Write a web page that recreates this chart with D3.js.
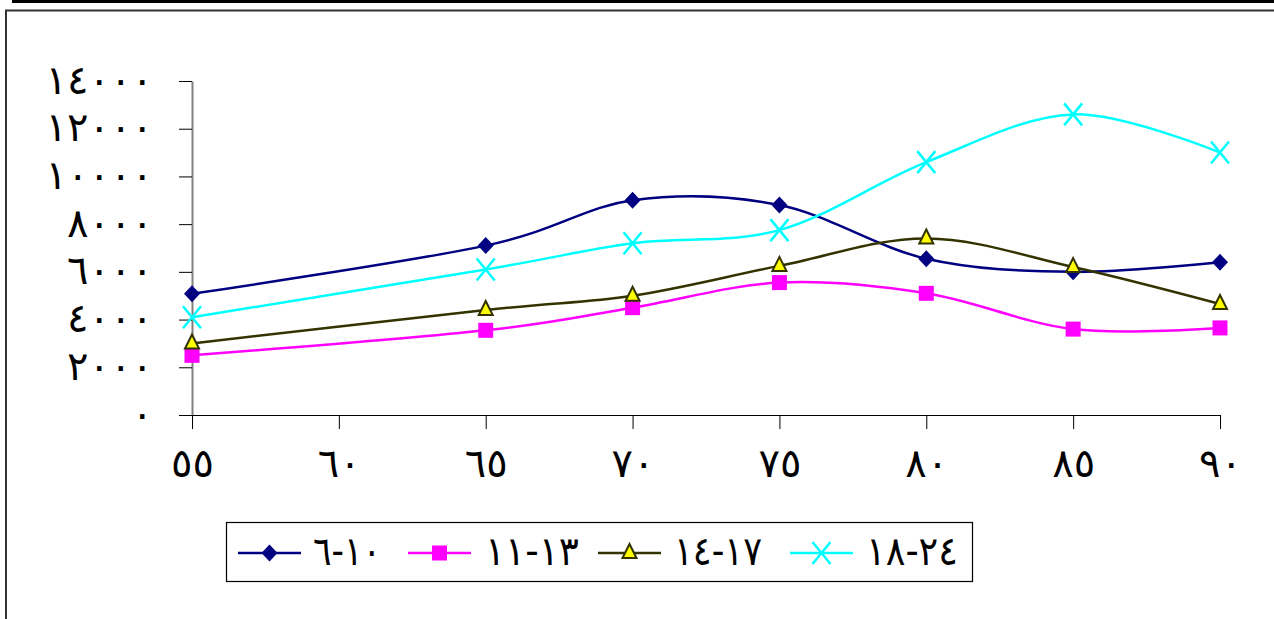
<!DOCTYPE html>
<html><head><meta charset="utf-8">
<script src="https://cdn.jsdelivr.net/npm/d3@7"></script>
<style>
html,body{margin:0;padding:0;background:#fff;}
svg{display:block;}
text{font-family:"DejaVu Sans","Noto Sans",sans-serif;fill:#000;}
</style></head>
<body>
<svg id="chart" width="1274" height="619"></svg>
<script>
const years = [55, 65, 70, 75, 80, 85, 90];
const xTickValues = [55, 60, 65, 70, 75, 80, 85, 90];
const yTickValues = [0, 2000, 4000, 6000, 8000, 10000, 12000, 14000];
const seriesNames = ["6-10", "11-13", "14-17", "18-24"];
const s6_10  = [5080, 7100, 9000, 8800, 6550, 6000, 6400];
const s11_13 = [2500, 3550, 4500, 5550, 5100, 3600, 3650];
const s14_17 = [3000, 4400, 5000, 6250, 7400, 6200, 4650];
const s18_24 = [4100, 6100, 7200, 7750, 10600, 12600, 11000];

const arDigits = "٠١٢٣٤٥٦٧٨٩";
const toAr = s => String(s).replace(/[0-9]/g, d => arDigits[+d]).replace(/-/g, "\u200E-\u200E");

const svg = d3.select("#chart");
// frame
svg.append("rect").attr("x", 12).attr("y", 0).attr("width", 1262).attr("height", 3).attr("fill", "#000");
svg.append("path").attr("d", "M6,619 V10.5 H1274").attr("fill", "none").attr("stroke", "#333").attr("stroke-width", 2);

const x = d3.scaleLinear().domain([55, 90]).range([192, 1220]);
const y = d3.scaleLinear().domain([0, 14000]).range([415, 81]);

// y axis
const yAxis = svg.append("g").attr("transform", "translate(192,0)")
  .call(d3.axisLeft(y).tickValues(yTickValues).tickSize(13).tickSizeOuter(0).tickFormat(d => toAr(d)));
yAxis.select(".domain").attr("stroke", "#808080").attr("stroke-width", 2);
yAxis.selectAll(".tick line").attr("stroke", "#000").attr("stroke-width", 1);
yAxis.selectAll(".tick text").attr("x", -39).attr("dy", "0.3em")
  .style("font-size", "40px").style("letter-spacing", "1.5px");

// x axis
const xAxis = svg.append("g").attr("transform", "translate(0,415)")
  .call(d3.axisBottom(x).tickValues(xTickValues).tickSize(14).tickSizeOuter(0).tickFormat(d => toAr(d)));
xAxis.select(".domain").attr("stroke", "#000").attr("stroke-width", 1.2);
xAxis.selectAll(".tick line").attr("stroke", "#000");
xAxis.selectAll(".tick text").attr("y", 50).attr("dy", "0.3em")
  .style("font-size", "40px").style("letter-spacing", "4px");

const series = [
  {name: seriesNames[0], values: s6_10, color: "#000080", marker: "diamond"},
  {name: seriesNames[1], values: s11_13, color: "#FF00FF", marker: "square"},
  {name: seriesNames[2], values: s14_17, color: "#333300", marker: "triangle"},
  {name: seriesNames[3], values: s18_24, color: "#00FFFF", marker: "cross"}
];

const line = d3.line().x(d => x(d[0])).y(d => y(d[1])).curve(d3.curveCardinal.tension(0));

function drawMarker(g, type, cx, cy, color) {
  if (type === "diamond") {
    g.append("path").attr("d", `M${cx},${cy-8.5}L${cx+8},${cy}L${cx},${cy+8.5}L${cx-8},${cy}Z`).attr("fill", color);
  } else if (type === "square") {
    g.append("rect").attr("x", cx-7.5).attr("y", cy-7.5).attr("width", 15).attr("height", 15).attr("fill", color);
  } else if (type === "triangle") {
    g.append("path").attr("d", `M${cx},${cy-9}L${cx+7},${cy+5}L${cx-7},${cy+5}Z`)
      .attr("fill", "#FFFF00").attr("stroke", color).attr("stroke-width", 2).attr("stroke-linejoin", "miter");
  } else if (type === "cross") {
    g.append("path").attr("d", `M${cx-9},${cy-11}L${cx+9},${cy+11}M${cx+9},${cy-11}L${cx-9},${cy+11}`)
      .attr("stroke", color).attr("stroke-width", 2.5).attr("fill", "none");
  }
}

series.forEach(s => {
  const pts = years.map((yr, i) => [yr, s.values[i]]);
  svg.append("path").datum(pts).attr("d", line).attr("fill", "none")
    .attr("stroke", s.color).attr("stroke-width", 2.5);
  const g = svg.append("g");
  pts.forEach(p => drawMarker(g, s.marker, x(p[0]), y(p[1]), s.color));
});

// legend
svg.append("rect").attr("x", 226.5).attr("y", 522.5).attr("width", 746).attr("height", 59)
  .attr("fill", "#fff").attr("stroke", "#000").attr("stroke-width", 1.2);
const legX = [238, 408, 598, 790];
const legTextX = [313, 485, 674, 866];
const legTextW = [68, 94, 88, 92];
series.forEach((s, i) => {
  const lx = legX[i], ly = 553;
  svg.append("line").attr("x1", lx).attr("x2", lx + 63).attr("y1", ly).attr("y2", ly)
    .attr("stroke", s.color).attr("stroke-width", 2.5);
  drawMarker(svg.append("g"), s.marker, lx + 31.5, ly, s.color);
  svg.append("text").attr("x", legTextX[i]).attr("y", ly).attr("dy", "0.3em")
    .attr("textLength", legTextW[i]).attr("lengthAdjust", "spacingAndGlyphs")
    .style("font-size", "40px").text(toAr(s.name));
});
</script>
</body></html>
